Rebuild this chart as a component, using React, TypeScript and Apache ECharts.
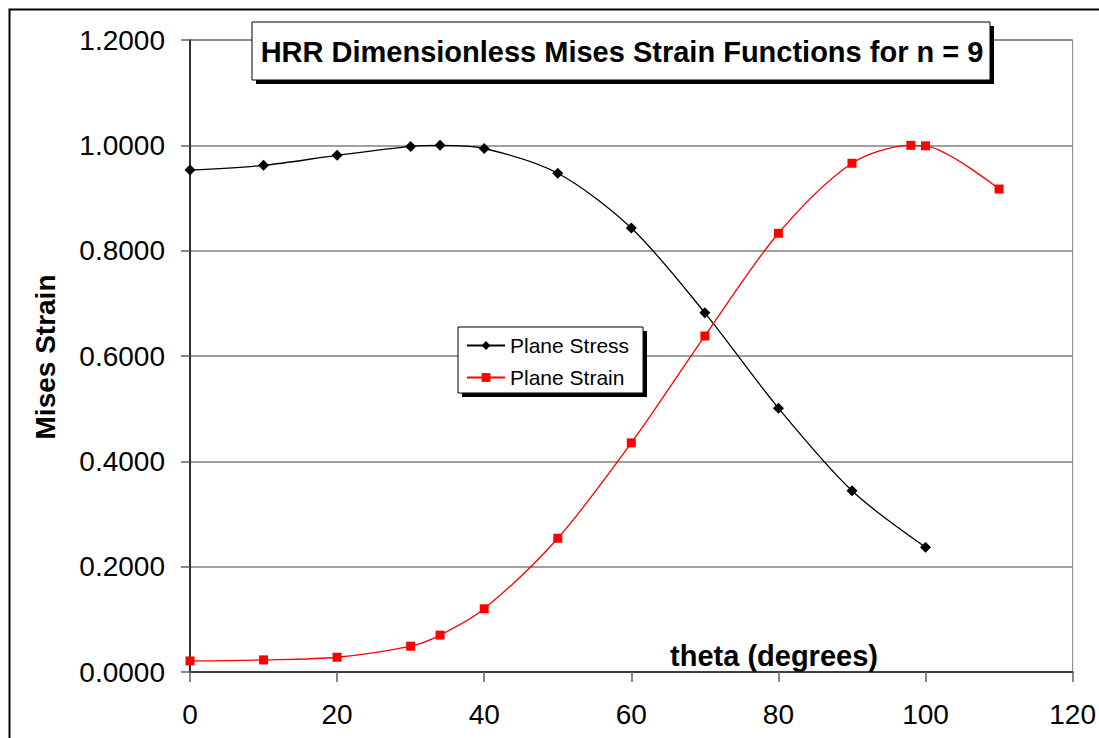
import React, { useEffect, useRef } from "react";
import * as echarts from "echarts";

const thetaStress = [0, 10, 20, 30, 34, 40, 50, 60, 70, 80, 90, 100];
const planeStress = [0.953, 0.962, 0.981, 0.998, 1.0, 0.994, 0.947, 0.843, 0.682, 0.501, 0.344, 0.237];
const thetaStrain = [0, 10, 20, 30, 34, 40, 50, 60, 70, 80, 90, 98, 100, 110];
const planeStrain = [0.021, 0.023, 0.028, 0.049, 0.07, 0.12, 0.254, 0.435, 0.638, 0.833, 0.966, 1.0, 0.999, 0.917];

const titleText = "HRR Dimensionless Mises Strain Functions for n = 9";
const yAxisTitle = "Mises Strain";
const xAxisTitle = "theta (degrees)";

const FONT = "'Liberation Sans', Arial, sans-serif";

export default function App() {
  const ref = useRef<HTMLDivElement>(null);
  useEffect(() => {
    if (!ref.current) return;
    const chart = echarts.init(ref.current, undefined, { renderer: "svg" });
    const stressData = thetaStress.map((t, i) => [t, planeStress[i]]);
    const strainData = thetaStrain.map((t, i) => [t, planeStrain[i]]);
    chart.setOption({
      animation: false,
      backgroundColor: "#ffffff",
      textStyle: { fontFamily: FONT },
      grid: {
        left: 190,
        right: 26,
        top: 40,
        bottom: 66,
        show: true,
        borderColor: "#808080",
        borderWidth: 1,
        backgroundColor: "transparent",
      },
      xAxis: {
        type: "value",
        min: 0,
        max: 120,
        interval: 20,
        axisLine: { show: true, onZero: false, lineStyle: { color: "#404040", width: 2 } },
        axisTick: { show: true, length: 10, lineStyle: { color: "#606060", width: 1.5 } },
        axisLabel: { color: "#000", fontSize: 28, fontFamily: FONT, margin: 28 },
        splitLine: { show: false },
      },
      yAxis: {
        type: "value",
        min: 0,
        max: 1.2,
        interval: 0.2,
        axisLine: { show: true, lineStyle: { color: "#000", width: 1.5 } },
        axisTick: { show: true, length: 9, lineStyle: { color: "#606060", width: 1.5 } },
        axisLabel: {
          color: "#000",
          fontSize: 28,
          fontFamily: FONT,
          margin: 25,
          formatter: (v: number) => v.toFixed(4),
        },
        splitLine: { show: true, lineStyle: { color: "#808080", width: 1.5 } },
      },
      legend: {
        orient: "vertical",
        left: 458,
        top: 327,
        padding: [8, 14, 5, 8],
        itemGap: 11,
        itemWidth: 38,
        itemHeight: 11,
        backgroundColor: "#ffffff",
        borderColor: "#000",
        borderWidth: 1,
        textStyle: { color: "#000", fontSize: 21, fontFamily: FONT },
        z: 10,
        data: ["Plane Stress", "Plane Strain"],
      },
      graphic: [
        {
          type: "rect",
          z: 0,
          silent: true,
          shape: { x: 9.5, y: 9.5, width: 1200, height: 1000 },
          style: { fill: "none", stroke: "#000", lineWidth: 2 },
        },
        {
          type: "rect",
          z: 50,
          silent: true,
          shape: { x: 256, y: 26, width: 738, height: 58 },
          style: { fill: "#000" },
        },
        {
          type: "rect",
          z: 51,
          silent: true,
          shape: { x: 252, y: 22, width: 738, height: 58 },
          style: { fill: "#fff", stroke: "#000", lineWidth: 1 },
        },
        {
          type: "text",
          z: 52,
          silent: true,
          x: 622,
          y: 52,
          style: {
            text: titleText,
            fill: "#000",
            font: `bold 29px ${FONT}`,
            align: "center",
            verticalAlign: "middle",
          },
        },
        {
          type: "rect",
          z: 5,
          silent: true,
          shape: { x: 462, y: 331, width: 185, height: 66 },
          style: { fill: "#000" },
        },
        {
          type: "text",
          z: 20,
          silent: true,
          x: 45,
          y: 357,
          rotation: Math.PI / 2,
          style: {
            text: yAxisTitle,
            fill: "#000",
            font: `bold 28px ${FONT}`,
            align: "center",
            verticalAlign: "middle",
          },
        },
        {
          type: "text",
          z: 20,
          silent: true,
          x: 774,
          y: 656,
          style: {
            text: xAxisTitle,
            fill: "#000",
            font: `bold 29px ${FONT}`,
            align: "center",
            verticalAlign: "middle",
          },
        },
      ],
      series: [
        {
          name: "Plane Stress",
          type: "line",
          data: stressData,
          smooth: 0.3,
          symbol: "diamond",
          symbolSize: 11,
          showAllSymbol: true,
          itemStyle: { color: "#000" },
          lineStyle: { color: "#000", width: 1.3 },
          z: 3,
        },
        {
          name: "Plane Strain",
          type: "line",
          data: strainData,
          smooth: 0.3,
          symbol: "rect",
          symbolSize: 9,
          showAllSymbol: true,
          itemStyle: { color: "#ff0000" },
          lineStyle: { color: "#ff0000", width: 1.3 },
          z: 3,
        },
      ],
    });
    return () => chart.dispose();
  }, []);
  return (
    <div
      ref={ref}
      style={{ position: "fixed", left: 0, top: 0, width: 1099, height: 738 }}
    />
  );
}
